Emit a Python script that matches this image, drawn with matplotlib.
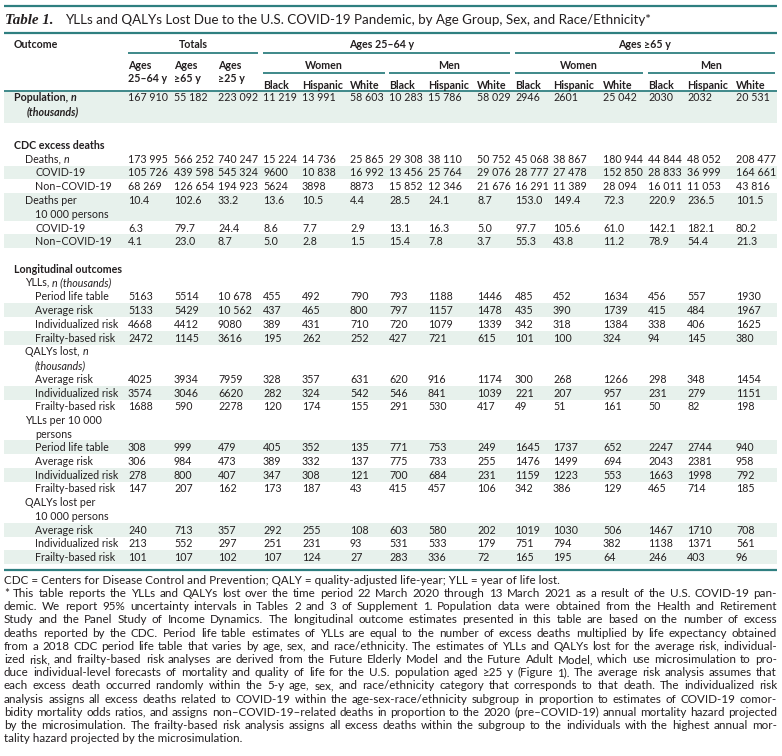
import matplotlib
matplotlib.use("Agg")
import matplotlib.pyplot as plt
from matplotlib.patches import Rectangle

# ---------------- data ----------------
population = [167910, 55182, 223092, 11219, 13991, 58603, 10283, 15786, 58029, 2946, 2601, 25042, 2030, 2032, 20531]
deaths = [173995, 566252, 740247, 15224, 14736, 25865, 29308, 38110, 50752, 45068, 38867, 180944, 44844, 48052, 208477]
deaths_covid = [105726, 439598, 545324, 9600, 10838, 16992, 13456, 25764, 29076, 28777, 27478, 152850, 28833, 36999, 164661]
deaths_noncovid = [68269, 126654, 194923, 5624, 3898, 8873, 15852, 12346, 21676, 16291, 11389, 28094, 16011, 11053, 43816]
rate = [10.4, 102.6, 33.2, 13.6, 10.5, 4.4, 28.5, 24.1, 8.7, 153.0, 149.4, 72.3, 220.9, 236.5, 101.5]
rate_covid = [6.3, 79.7, 24.4, 8.6, 7.7, 2.9, 13.1, 16.3, 5.0, 97.7, 105.6, 61.0, 142.1, 182.1, 80.2]
rate_noncovid = [4.1, 23.0, 8.7, 5.0, 2.8, 1.5, 15.4, 7.8, 3.7, 55.3, 43.8, 11.2, 78.9, 54.4, 21.3]
yll_plt = [5163, 5514, 10678, 455, 492, 790, 793, 1188, 1446, 485, 452, 1634, 456, 557, 1930]
yll_avg = [5133, 5429, 10562, 437, 465, 800, 797, 1157, 1478, 435, 390, 1739, 415, 484, 1967]
yll_ind = [4668, 4412, 9080, 389, 431, 710, 720, 1079, 1339, 342, 318, 1384, 338, 406, 1625]
yll_frail = [2472, 1145, 3616, 195, 262, 252, 427, 721, 615, 101, 100, 324, 94, 145, 380]
qaly_avg = [4025, 3934, 7959, 328, 357, 631, 620, 916, 1174, 300, 268, 1266, 298, 348, 1454]
qaly_ind = [3574, 3046, 6620, 282, 324, 542, 546, 841, 1039, 221, 207, 957, 231, 279, 1151]
qaly_frail = [1688, 590, 2278, 120, 174, 155, 291, 530, 417, 49, 51, 161, 50, 82, 198]
yllr_plt = [308, 999, 479, 405, 352, 135, 771, 753, 249, 1645, 1737, 652, 2247, 2744, 940]
yllr_avg = [306, 984, 473, 389, 332, 137, 775, 733, 255, 1476, 1499, 694, 2043, 2381, 958]
yllr_ind = [278, 800, 407, 347, 308, 121, 700, 684, 231, 1159, 1223, 553, 1663, 1998, 792]
yllr_frail = [147, 207, 162, 173, 187, 43, 415, 457, 106, 342, 386, 129, 465, 714, 185]
qalyr_avg = [240, 713, 357, 292, 255, 108, 603, 580, 202, 1019, 1030, 506, 1467, 1710, 708]
qalyr_ind = [213, 552, 297, 251, 231, 93, 531, 533, 179, 751, 794, 382, 1138, 1371, 561]
qalyr_frail = [101, 107, 102, 107, 124, 27, 283, 336, 72, 165, 195, 64, 246, 403, 96]

race_labels = ["Black", "Hispanic", "White"]
sex_labels = ["Women", "Men"]

title_main = "YLLs and QALYs Lost Due to the U.S. COVID-19 Pandemic, by Age Group, Sex, and Race/Ethnicity*"

footnote_lines = [
    "CDC = Centers for Disease Control and Prevention; QALY = quality-adjusted life-year; YLL = year of life lost.",
    "* This table reports the YLLs and QALYs lost over the time period 22 March 2020 through 13 March 2021 as a result of the U.S. COVID-19 pan-",
    "demic. We report 95% uncertainty intervals in Tables 2 and 3 of Supplement 1. Population data were obtained from the Health and Retirement",
    "Study and the Panel Study of Income Dynamics. The longitudinal outcome estimates presented in this table are based on the number of excess",
    "deaths reported by the CDC. Period life table estimates of YLLs are equal to the number of excess deaths multiplied by life expectancy obtained",
    "from a 2018 CDC period life table that varies by age, sex, and race/ethnicity. The estimates of YLLs and QALYs lost for the average risk, individual-",
    "ized risk, and frailty-based risk analyses are derived from the Future Elderly Model and the Future Adult Model, which use microsimulation to pro-",
    "duce individual-level forecasts of mortality and quality of life for the U.S. population aged \u226525 y (Figure 1). The average risk analysis assumes that",
    "each excess death occurred randomly within the 5-y age, sex, and race/ethnicity category that corresponds to that death. The individualized risk",
    "analysis assigns all excess deaths related to COVID-19 within the age-sex-race/ethnicity subgroup in proportion to estimates of COVID-19 comor-",
    "bidity mortality odds ratios, and assigns non\u2013COVID-19\u2013related deaths in proportion to the 2020 (pre\u2013COVID-19) annual mortality hazard projected",
    "by the microsimulation. The frailty-based risk analysis assigns all excess deaths within the subgroup to the individuals with the highest annual mor-",
    "tality hazard projected by the microsimulation.",
]
justified = [False] + [True] * 11 + [False]

# ---------------- layout / style ----------------
W, H = 782, 756
FONT = ["Lato", "DejaVu Sans"]
TXT = "#231f20"
TEAL = "#2f7f80"
SHADE = "#e7f1ec"

fig = plt.figure(figsize=(W / 100, H / 100), dpi=100)
ax = fig.add_axes([0, 0, 1, 1])
ax.set_xlim(0, W)
ax.set_ylim(H, 0)
ax.axis("off")
renderer = fig.canvas.get_renderer()

XL, XR = 4, 777


def width(t):
    return t.get_window_extent(renderer=renderer).width


def measure(s, size=10.0, weight="normal"):
    t = ax.text(0, 0, s, fontsize=size, family=FONT, fontweight=weight)
    w = width(t)
    t.remove()
    return w


def fit_size(strings, target, start=8.0):
    size = start
    for _ in range(4):
        w = max(measure(s, size) for s in strings)
        size = size * target / w
    # make sure we never exceed the target
    while max(measure(s, size) for s in strings) > target + 0.5:
        size -= 0.05
    return size


SZ = fit_size(["173 995"], 40.0)
TITLE_SZ = fit_size([title_main], 590.0, 8.8)
FN_SZ = fit_size([l for l, j in zip(footnote_lines, justified) if j], 766.0, 8.5)

col_x = [128, 174, 218, 263, 302, 350, 389, 428, 477, 515, 553, 603, 648, 687, 736]


def fmt(v):
    if isinstance(v, float):
        return f"{v:.1f}"
    s = str(v)
    if v >= 10000:
        s = s[:-3] + " " + s[-3:]
    return s


def txt(x, y, s, size=None, weight="normal", style="normal", ha="left", family=None, color=TXT):
    return ax.text(x, y + 3.8, s, fontsize=size or SZ, fontweight=weight, fontstyle=style,
                   family=family or FONT, ha=ha, va="baseline", color=color)


def rich(x, y, segs):
    for s, weight, style in segs:
        t = txt(x, y, s, weight=weight, style=style)
        x += width(t)


def hline(y, x0, x1, lw=1.3):
    ax.plot([x0, x1], [y, y], color=TEAL, lw=lw, solid_capstyle="butt")


def shade(y0, y1):
    ax.add_patch(Rectangle((XL, y0), XR - XL, y1 - y0, facecolor=SHADE, edgecolor="none", zorder=0))


# ---------------- title ----------------
hline(6, XL, XR, lw=1.6)
ax.text(5, 24, "Table 1.", fontsize=10.8, fontstyle="italic", fontweight="bold",
        family=["Liberation Serif"], va="baseline", color=TXT)
ax.text(65, 24, title_main, fontsize=TITLE_SZ, family=FONT, va="baseline", color=TXT)
hline(33, XL, XR, lw=1.6)

# ---------------- header ----------------
txt(14, 44, "Outcome", weight="bold")
txt((128 + 258) / 2, 44, "Totals", weight="bold", ha="center")
txt(382, 44, "Ages 25\u201364 y", weight="bold", ha="center")
txt(645, 44, "Ages \u226565 y", weight="bold", ha="center")
hline(53, 128, 258)
hline(53, 263, 510)
hline(53, 515, 775)

for x, l2 in zip(col_x[:3], ["25\u201364 y", "\u226565 y", "\u226525 y"]):
    txt(x, 65, "Ages", weight="bold")
    txt(x, 78, l2, weight="bold")

sex_spans = [(263, 385), (389, 510), (515, 643), (648, 775)]
for i, (a, b) in enumerate(sex_spans):
    txt((a + b) / 2, 65, sex_labels[i % 2], weight="bold", ha="center")
    hline(73, a, b)
    for j in range(3):
        txt(col_x[3 + 3 * i + j], 85, race_labels[j], weight="bold")
hline(91, XL, XR, lw=1.3)

# ---------------- shading ----------------
for y0, y1 in [(91.5, 123), (166, 179), (193, 221), (234, 248), (303, 317), (331, 345),
               (386, 400), (440, 454), (468, 482), (523, 537), (550, 564)]:
    shade(y0, y1)

# ---------------- body ----------------
rich(14, 97, [("Population, ", "bold", "normal"), ("n", "bold", "italic")])
rich(27, 111, [("(thousands)", "bold", "italic")])

data_rows = [
    (97, population),
    (159, deaths), (172, deaths_covid), (186, deaths_noncovid),
    (200, rate), (228, rate_covid), (241, rate_noncovid),
    (296, yll_plt), (310, yll_avg), (324, yll_ind), (338, yll_frail),
    (379, qaly_avg), (393, qaly_ind), (406, qaly_frail),
    (447, yllr_plt), (461, yllr_avg), (475, yllr_ind), (488, yllr_frail),
    (530, qalyr_avg), (543, qalyr_ind), (557, qalyr_frail),
]
for y, vals in data_rows:
    for x, v in zip(col_x, vals):
        txt(x, y, fmt(v))

txt(14, 145, "CDC excess deaths", weight="bold")
rich(25, 159, [("Deaths, ", "normal", "normal"), ("n", "normal", "italic")])
txt(35, 172, "COVID-19")
txt(35, 186, "Non\u2013COVID-19")
txt(25, 200, "Deaths per")
txt(35, 214, "10 000 persons")
txt(35, 228, "COVID-19")
txt(35, 241, "Non\u2013COVID-19")

txt(14, 269, "Longitudinal outcomes", weight="bold")
rich(25, 282, [("YLLs, ", "normal", "normal"), ("n (thousands)", "normal", "italic")])
for y, lab in [(296, "Period life table"), (310, "Average risk"), (324, "Individualized risk"), (338, "Frailty-based risk")]:
    txt(35, y, lab)
rich(25, 351, [("QALYs lost, ", "normal", "normal"), ("n", "normal", "italic")])
txt(35, 365, "(thousands)", style="italic")
for y, lab in [(379, "Average risk"), (393, "Individualized risk"), (406, "Frailty-based risk")]:
    txt(35, y, lab)
txt(25, 420, "YLLs per 10 000")
txt(35, 434, "persons")
for y, lab in [(447, "Period life table"), (461, "Average risk"), (475, "Individualized risk"), (488, "Frailty-based risk")]:
    txt(35, y, lab)
txt(25, 502, "QALYs lost per")
txt(35, 516, "10 000 persons")
for y, lab in [(530, "Average risk"), (543, "Individualized risk"), (557, "Frailty-based risk")]:
    txt(35, y, lab)

hline(569.5, XL, XR, lw=1.6)

# ---------------- footnotes ----------------
y = 580
for line, just in zip(footnote_lines, justified):
    if not just:
        txt(4, y, line, size=FN_SZ)
    else:
        words = line.split(" ")
        objs = [txt(0, y, w_, size=FN_SZ) for w_ in words]
        ws = [width(o) for o in objs]
        gap = (XR - 4 - sum(ws)) / (len(words) - 1)
        x = 4
        for o, w_ in zip(objs, ws):
            o.set_x(x)
            x += w_ + gap
    y += 13.2

fig.savefig("out.png", dpi=100)
